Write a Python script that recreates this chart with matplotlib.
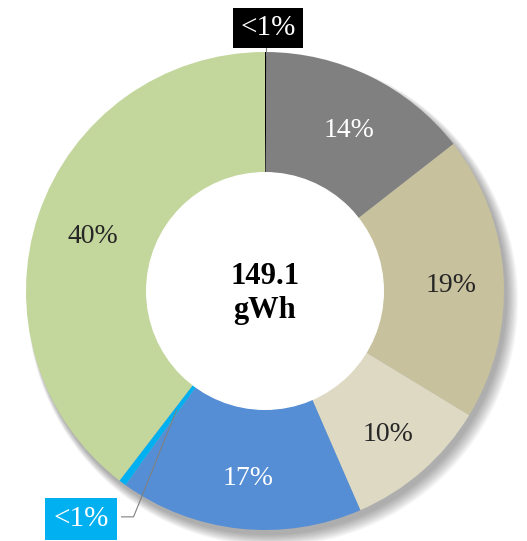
import numpy as np
import matplotlib.pyplot as plt

# energy share by source, clockwise from the top
shares = [0.1, 14.4, 19.3, 9.8, 16.5, 0.5, 39.7]
labels = ['<1%', '14%', '19%', '10%', '17%', '<1%', '40%']
colors = ['#000000', '#808080', '#C8C19D', '#DDD9C3', '#558ED5', '#00B0F0', '#C3D69B']
label_colors = ['white', 'white', '#262626', '#262626', 'white', 'white', '#262626']
total = '149.1\ngWh'

plt.rcParams['font.family'] = ['Liberation Serif', 'DejaVu Serif']

W, H = 527, 541
cx, cy, R = 265, 291, 239

fig = plt.figure(figsize=(W / 100, H / 100), dpi=100)
ax = fig.add_axes([0, 0, 1, 1])

# soft drop shadow under the ring
for i in range(10):
    sh = plt.Circle((0.014 + i * 0.002, -0.022 - i * 0.002), 1.0 + i * 0.003,
                    color='black', alpha=0.035, lw=0)
    ax.add_patch(sh)

wedges, _ = ax.pie(shares, colors=colors, startangle=90, counterclock=False,
                   radius=1.0, wedgeprops=dict(width=0.505, edgecolor='none'))

# pie() resets the limits, so set them afterwards
ax.set_xlim(-cx / R, (W - cx) / R)
ax.set_ylim(-(H - cy) / R, cy / R)
ax.set_aspect('equal')
ax.axis('off')

ax.add_patch(plt.Circle((0, 0), 0.495, color='white', zorder=3))

for w, lab, lc in zip(wedges, labels, label_colors):
    ang = np.deg2rad((w.theta1 + w.theta2) / 2)
    if lab == '<1%':
        continue
    ax.text(0.77 * np.cos(ang) + 0.01, 0.77 * np.sin(ang) - 0.02, lab, ha='center',
            va='center', fontsize=20, color=lc, zorder=4)

# callouts for the tiny slices
w0 = wedges[0]
a0 = np.deg2rad((w0.theta1 + w0.theta2) / 2)
ax.plot([np.cos(a0), np.cos(a0)], [np.sin(a0), np.sin(a0) + 0.03], color='#808080', lw=0.8)
ax.text(np.cos(a0) + 0.01, 1.1, labels[0], ha='center', va='center', fontsize=21,
        color='white', bbox=dict(boxstyle='square,pad=0.25', fc='black', ec='none'), zorder=5)

w5 = wedges[5]
a5 = np.deg2rad((w5.theta1 + w5.theta2) / 2)
p_in = (0.62 * np.cos(a5), 0.62 * np.sin(a5))
kx, ky = -0.55, -0.945
ax.plot([p_in[0], kx, kx - 0.05], [p_in[1], ky, ky], color='#808080', lw=0.8, zorder=4)
ax.text(-0.77, ky - 0.01, labels[5], ha='center', va='center', fontsize=21, color='white',
        bbox=dict(boxstyle='square,pad=0.28', fc='#00B0F0', ec='none'), zorder=5)

ax.text(0, -0.01, total, ha='center', va='center', fontsize=22, fontweight='bold',
        color='black', linespacing=1.2, zorder=5)

fig.savefig('out.png', dpi=100)
